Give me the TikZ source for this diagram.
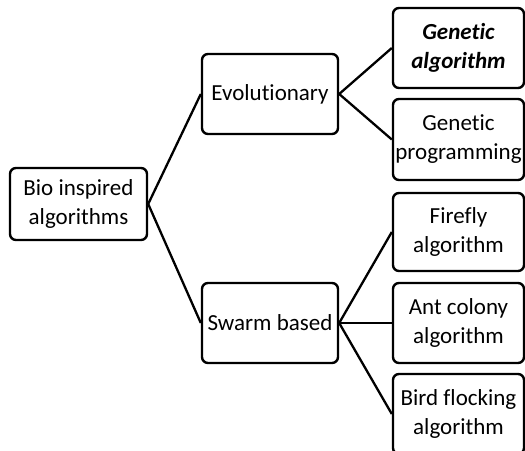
\documentclass[tikz,border=0pt]{standalone}
\usepackage{fontspec}
\setmainfont{Carlito}[Ligatures={NoCommon,NoContextual}]
\begin{document}
\begin{tikzpicture}[x=1pt,y=-1pt,
  box/.style={draw=black, line width=2.4pt, rounded corners=6pt, fill=white,
    align=center, inner sep=0pt, font=\fontsize{23}{29}\selectfont},
  link/.style={draw=black, line width=2.3pt}]
\useasboundingbox (0,0) rectangle (525,450);
\clip (0,0) rectangle (525,450);
\node[box, minimum width=137pt, minimum height=72pt] (bio) at (78.5,204) {Bio inspired\\algorithms};
\node[box, minimum width=136pt, minimum height=80pt] (evo) at (270,94) {Evolutionary};
\node[box, minimum width=136pt, minimum height=80pt] (swarm) at (270,323) {Swarm based};
\node[box, minimum width=131pt, minimum height=80pt] (ga) at (458.5,48) {\bfseries\itshape Genetic\\\bfseries\itshape algorithm};
\node[box, minimum width=131pt, minimum height=81pt] (gp) at (458.5,139.5) {Genetic\\programming};
\node[box, minimum width=131pt, minimum height=78pt] (ff) at (458.5,232) {Firefly\\algorithm};
\node[box, minimum width=131pt, minimum height=80pt] (ant) at (458.5,323) {Ant colony\\algorithm};
\node[box, minimum width=131pt, minimum height=80pt] (bird) at (458.5,414) {Bird flocking\\algorithm};
\draw[link] (bio.east) -- (evo.west);
\draw[link] (bio.east) -- (swarm.west);
\draw[link] (evo.east) -- (ga.west);
\draw[link] (evo.east) -- (gp.west);
\draw[link] (swarm.east) -- (ff.west);
\draw[link] (swarm.east) -- (ant.west);
\draw[link] (swarm.east) -- (bird.west);
\end{tikzpicture}
\end{document}
